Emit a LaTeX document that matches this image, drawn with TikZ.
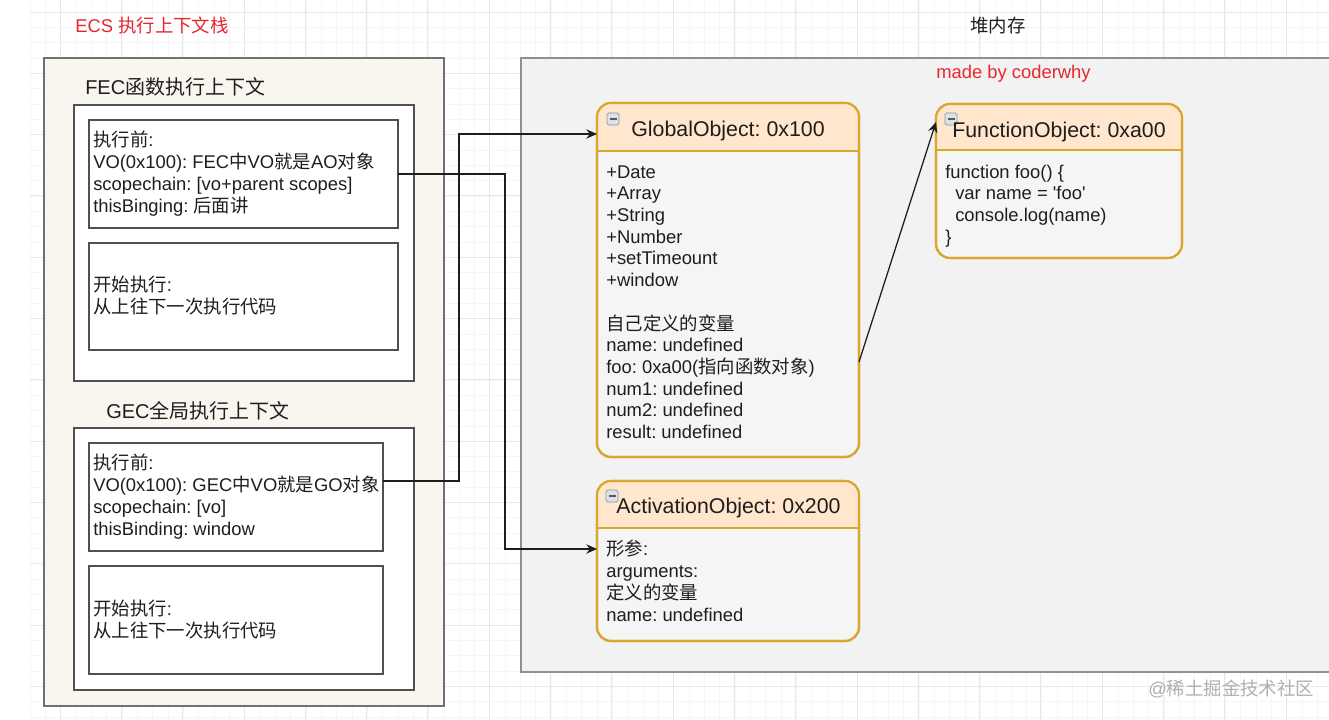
\documentclass[tikz,border=0pt]{standalone}
\usepackage{fontspec}
\newfontfamily\hv{Liberation Sans}
\newfontfamily\cjk{Noto Sans CJK SC}
\usetikzlibrary{arrows.meta}
\frenchspacing
\newcommand{\zh}[1]{{\cjk #1}}
\newcommand{\rows}[1]{\begin{tabular}{@{}l@{}}#1\end{tabular}}
\definecolor{ecsfill}{HTML}{F8F6EF}
\definecolor{heapfill}{HTML}{F2F2F2}
\definecolor{objfill}{HTML}{F5F5F5}
\definecolor{boxline}{HTML}{505050}
\definecolor{outerline}{HTML}{707070}
\definecolor{heapline}{HTML}{909090}
\definecolor{peach}{HTML}{FFE6CC}
\definecolor{gold}{HTML}{D9A62E}
\definecolor{redlab}{HTML}{E8262E}
\definecolor{gridmaj}{HTML}{E8E8E8}
\definecolor{gridmin}{HTML}{F6F6F6}
\definecolor{inkc}{HTML}{1E1E1E}
\definecolor{wmark}{HTML}{B0B0B0}
\definecolor{iconfill}{HTML}{DDE2E8}
\definecolor{iconline}{HTML}{8A94A0}
\tikzset{
  bodytext/.style={font=\hv\fontsize{13.8}{16.2}\selectfont, text=inkc, inner sep=0, anchor=north west},
  titletext/.style={font=\hv\fontsize{16}{19}\selectfont, text=inkc, inner sep=0, anchor=base},
  labeltext/.style={font=\hv\fontsize{13.8}{16.2}\selectfont, inner sep=0, anchor=base west},
  sublabel/.style={font=\hv\fontsize{15}{18}\selectfont, text=inkc, inner sep=0, anchor=base west},
  framebox/.style={draw=boxline, line width=1.3pt, fill=white, anchor=north west, outer sep=0, inner sep=0},
  objbox/.style={draw=gold, line width=1.6pt, fill=objfill, rounded corners=10.5pt, anchor=north west, outer sep=0, inner sep=0},
  objline/.style={draw=gold, line width=1.6pt},
  conn/.style={draw=inkc, line width=0.95pt, -{Stealth[length=8pt,width=7pt]}},
  collapse/.style={draw=iconline, fill=iconfill, line width=0.5pt, rounded corners=1.2pt}
}
\begin{document}
\begin{tikzpicture}[x=0.75pt,y=-0.75pt]
\useasboundingbox (0,0) rectangle (1329,720);
\fill[white] (0,0) rectangle (1329,720);
% grid
\foreach \k in {0,...,86} {
  \draw[gridmin, line width=0.4pt] ({30+15.325*\k},0) -- ({30+15.325*\k},720);
}
\foreach \k in {0,...,47} {
  \draw[gridmin, line width=0.4pt] (30,{12+15.325*(\k-1)}) -- (1329,{12+15.325*(\k-1)});
}
\foreach \k in {0,...,20} {
  \draw[gridmaj, line width=0.6pt] ({60+61.3*\k},0) -- ({60+61.3*\k},720);
}
\foreach \k in {0,...,11} {
  \draw[gridmaj, line width=0.6pt] (30,{12+61.3*\k}) -- (1329,{12+61.3*\k});
}

% titles
\node[labeltext, text=redlab] (ecslabel) at (75,32.5) {ECS \zh{执行上下文栈}};
\node[labeltext, text=inkc] (heaplabel) at (970,32.5) {\zh{堆内存}};

% ECS stack
\node[framebox, draw=outerline, fill=ecsfill, minimum width=300pt, minimum height=486pt] (ecs) at (44,58) {};
\node[sublabel] (feclabel) at (85,95) {FEC\zh{函数执行上下文}};
\node[framebox, minimum width=255pt, minimum height=207pt] (fec) at (74,105) {};
\node[framebox, minimum width=231.75pt, minimum height=81pt] (fec1) at (89,120) {};
\node[framebox, minimum width=231.75pt, minimum height=80.25pt] (fec2) at (89,243) {};
\node[bodytext] (fec1t) at (93,131) {\rows{\zh{执行前}:\\ VO(0x100): FEC\zh{中}VO\zh{就是}AO\zh{对象}\\ scopechain: [vo+parent scopes]\\ thisBinging: \zh{后面讲}}};
\node[bodytext] (fec2t) at (93,276) {\rows{\zh{开始执行}:\\ \zh{从上往下一次执行代码}}};

\node[sublabel] (geclabel) at (106,418) {GEC\zh{全局执行上下文}};
\node[framebox, minimum width=255pt, minimum height=196.5pt] (gec) at (74,428) {};
\node[framebox, minimum width=220.5pt, minimum height=81pt] (gec1) at (89,443) {};
\node[framebox, minimum width=220.5pt, minimum height=81pt] (gec2) at (89,566) {};
\node[bodytext] (gec1t) at (93,454) {\rows{\zh{执行前}:\\ VO(0x100): GEC\zh{中}VO\zh{就是}GO\zh{对象}\\ scopechain: [vo]\\ thisBinding: window}};
\node[bodytext] (gec2t) at (93,600) {\rows{\zh{开始执行}:\\ \zh{从上往下一次执行代码}}};

% heap
\node[framebox, draw=heapline, fill=heapfill, minimum width=618pt, minimum height=460.5pt] (heap) at (521,58) {};
\node[labeltext, text=redlab] (madeby) at (936,79) {made by coderwhy};

% GlobalObject
\node[objbox, minimum width=196.5pt, minimum height=265.5pt] (go) at (597,103) {};
\begin{scope}
\clip[rounded corners=10.5pt] (597,103) rectangle (859,457);
\fill[peach] (597,103) rectangle (859,151);
\end{scope}
\draw[objline] (597,151) -- (859,151);
\draw[objline, rounded corners=10.5pt] (go.north west) rectangle (go.south east);
\draw[collapse] (607,113) rectangle (619,125);
\draw[iconline!60!black, line width=0.8pt] (609.5,119) -- (616.5,119);
\node[titletext] (gotitle) at (728,136.5) {GlobalObject: 0x100};
\node[bodytext] (gobody) at (606,163) {\rows{+Date\\ +Array\\ +String\\ +Number\\ +setTimeount\\ +window\\ \\ \zh{自己定义的变量}\\ name: undefined\\ foo: 0xa00(\zh{指向函数对象})\\ num1: undefined\\ num2: undefined\\ result: undefined}};

% FunctionObject
\node[objbox, minimum width=184.5pt, minimum height=115.5pt] (fo) at (936,104) {};
\begin{scope}
\clip[rounded corners=10.5pt] (936,104) rectangle (1182,258);
\fill[peach] (936,104) rectangle (1182,150);
\end{scope}
\draw[objline] (936,150) -- (1182,150);
\draw[objline, rounded corners=10.5pt] (fo.north west) rectangle (fo.south east);
\draw[collapse] (945,113) rectangle (957,125);
\draw[iconline!60!black, line width=0.8pt] (947.5,119) -- (954.5,119);
\node[titletext] (fotitle) at (1059,137.5) {FunctionObject: 0xa00};
\node[bodytext] (fobody) at (945,163) {\rows{function foo() \{\\ \hspace{7.5pt}var name = 'foo'\\ \hspace{7.5pt}console.log(name)\\ \}}};

% ActivationObject
\node[objbox, minimum width=196.5pt, minimum height=120pt] (ao) at (597,481) {};
\begin{scope}
\clip[rounded corners=10.5pt] (597,481) rectangle (859,641);
\fill[peach] (597,481) rectangle (859,528);
\end{scope}
\draw[objline] (597,528) -- (859,528);
\draw[objline, rounded corners=10.5pt] (ao.north west) rectangle (ao.south east);
\draw[collapse] (606,490) rectangle (618,502);
\draw[iconline!60!black, line width=0.8pt] (608.5,496) -- (615.5,496);
\node[titletext] (aotitle) at (728.5,513.5) {ActivationObject: 0x200};
\node[bodytext] (aobody) at (606,540) {\rows{\zh{形参}:\\ arguments:\\ \zh{定义的变量}\\ name: undefined}};

% connectors
\coordinate (bendA) at (505,549);
\coordinate (bendB) at (459,134);
\draw[conn] (fec1.east) -| (bendA) -- (ao.west |- bendA);
\draw[conn] (gec1.east |- 0,481) -| (bendB) -- (go.west |- bendB);
\draw[conn] (go.east |- 0,362) -- (fo.west |- 0,122);

% watermark
\node[labeltext, text=wmark] (wm) at (1148,695) {@\zh{稀土掘金技术社区}};
\end{tikzpicture}
\end{document}
